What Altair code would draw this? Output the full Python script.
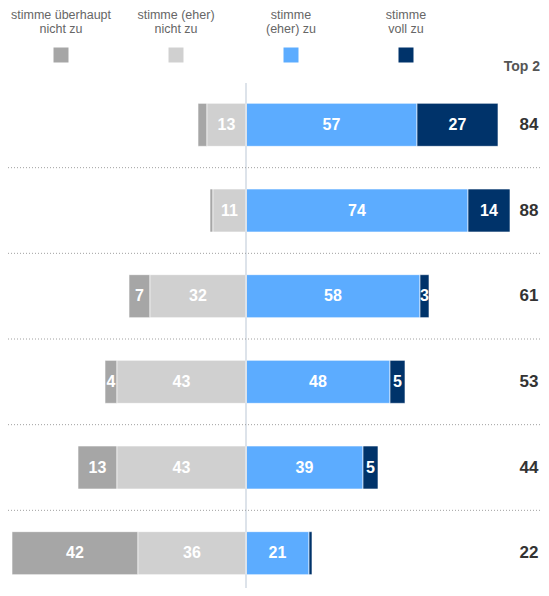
import altair as alt
import pandas as pd

# ---- data ----
rows = ["Aussage 1", "Aussage 2", "Aussage 3", "Aussage 4", "Aussage 5", "Aussage 6"]
ueberhaupt_nicht = [3, 1, 7, 4, 13, 42]
eher_nicht = [13, 11, 32, 43, 43, 36]
eher_zu = [57, 74, 58, 48, 39, 21]
voll_zu = [27, 14, 3, 5, 5, 1]
top2 = [84, 88, 61, 53, 44, 22]
show_label = {  # labels hidden on the tiniest segments
    "ueberhaupt": [False, False, True, True, True, True],
    "voll": [True, True, True, True, True, False],
}

cats = ["stimme überhaupt nicht zu", "stimme (eher) nicht zu", "stimme (eher) zu", "stimme voll zu"]
legend_line1 = ["stimme überhaupt", "stimme (eher)", "stimme", "stimme"]
legend_line2 = ["nicht zu", "nicht zu", "(eher) zu", "voll zu"]
colors = ["#a6a6a6", "#d0d0d0", "#5cacff", "#00336a"]
top_label = "Top 2"

# ---- build tables ----
recs = []
for i, r in enumerate(rows):
    a, b, c, d = ueberhaupt_nicht[i], eher_nicht[i], eher_zu[i], voll_zu[i]
    segs = [
        (cats[0], -(a + b), -b, a, show_label["ueberhaupt"][i]),
        (cats[1], -b, 0, b, True),
        (cats[2], 0, c, c, True),
        (cats[3], c, c + d, d, show_label["voll"][i]),
    ]
    for cat, s, e, v, show in segs:
        recs.append({"row": r, "cat": cat, "start": s, "end": e,
                     "mid": (s + e) / 2, "label": str(v) if show else ""})
bars = pd.DataFrame(recs)
totals = pd.DataFrame({"row": rows, "top2": top2})
seps = pd.DataFrame({"row": rows[:-1]})
legend = pd.DataFrame({"cat": cats, "l1": legend_line1, "l2": legend_line2})

W, H = 533, 580
xscale = alt.Scale(domain=[-79.333, 98.333], range=[0, W], nice=False, zero=False)
yscale = alt.Scale(type="band", domain=rows, range=[74, 588], paddingInner=0, paddingOuter=0)
cscale = alt.Scale(domain=cats, range=colors)
FONT = "Liberation Sans"

base = alt.Chart(bars)

bar = base.mark_bar(height=43, stroke="white", strokeWidth=0.6).encode(
    x=alt.X("start:Q", scale=xscale, axis=None),
    x2="end:Q",
    y=alt.Y("row:N", scale=yscale, axis=None),
    color=alt.Color("cat:N", scale=cscale, legend=None),
)
lbl = base.mark_text(color="white", fontSize=16, fontWeight="bold", font=FONT).encode(
    x=alt.X("mid:Q", scale=xscale, axis=None),
    y=alt.Y("row:N", scale=yscale, axis=None),
    text="label:N",
)
sep = alt.Chart(seps).mark_rule(color="#a0a0a0", strokeDash=[1, 2], strokeWidth=1).encode(
    y=alt.Y("row:N", scale=yscale, axis=None, bandPosition=1),
    x=alt.value(0),
    x2=alt.value(W),
)
center = alt.Chart(pd.DataFrame({"v": [0]})).mark_rule(color="#dde3ea", strokeWidth=2).encode(
    x=alt.X("v:Q", scale=xscale, axis=None),
    y=alt.value(75),
    y2=alt.value(H),
)
tot = alt.Chart(totals).mark_text(color="#333333", fontSize=17, fontWeight="bold", font=FONT).encode(
    x=alt.value(521),
    y=alt.Y("row:N", scale=yscale, axis=None),
    text="top2:Q",
)
toptxt = alt.Chart(pd.DataFrame({"t": [top_label]})).mark_text(
    color="#555555", fontSize=14, fontWeight="bold", font=FONT, align="right", baseline="alphabetic"
).encode(x=alt.value(532), y=alt.value(63), text="t:N")

lx = alt.X("cat:N", scale=alt.Scale(type="point", domain=cats, range=[53, 398], padding=0), axis=None)
leg_sq = alt.Chart(legend).mark_square(size=225, opacity=1).encode(
    x=lx, y=alt.value(47),
    color=alt.Color("cat:N", scale=cscale, legend=None),
)
leg_t1 = alt.Chart(legend).mark_text(color="#666666", fontSize=12.5, font=FONT, baseline="alphabetic").encode(
    x=lx, y=alt.value(10.5), text="l1:N")
leg_t2 = alt.Chart(legend).mark_text(color="#666666", fontSize=12.5, font=FONT, baseline="alphabetic").encode(
    x=lx, y=alt.value(25), text="l2:N")

main = alt.layer(bar, center, lbl, sep, tot, toptxt)
legend_layer = alt.layer(leg_sq, leg_t1, leg_t2)

chart = alt.layer(main, legend_layer).resolve_scale(x="independent").properties(
    width=W, height=H, autosize=alt.AutoSizeParams(type="none"), padding=0
).configure_view(stroke=None)

chart.save("out.html", embed_options={"renderer": "svg", "actions": False})
